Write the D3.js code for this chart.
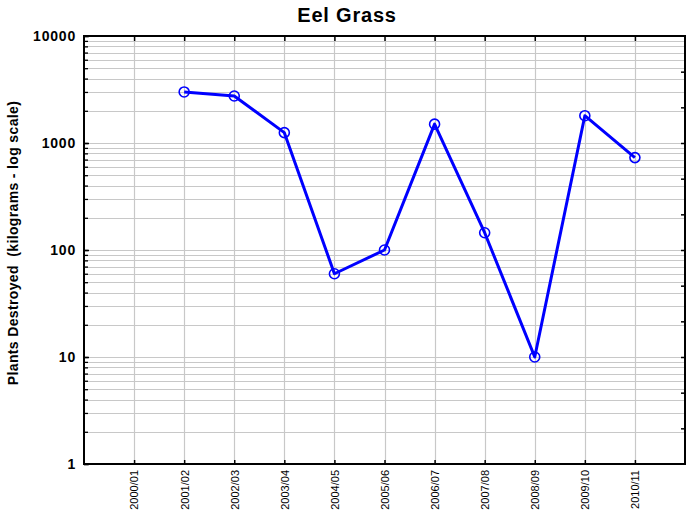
<!DOCTYPE html>
<html>
<head>
<meta charset="utf-8">
<script src="https://cdn.jsdelivr.net/npm/d3@7"></script>
<style>
  html, body { margin: 0; padding: 0; background: #fff; }
  svg { display: block; font-family: "Liberation Sans", Arial, sans-serif; }
</style>
</head>
<body>
<svg id="chart" width="687" height="513"></svg>
<script>
// Seasons on the x axis
const seasons = ["2000/01", "2001/02", "2002/03", "2003/04", "2004/05", "2005/06",
                 "2006/07", "2007/08", "2008/09", "2009/10", "2010/11"];
// Eel grass destroyed per season (kg); no record for 2000/01
const destroyed = [null, 3000, 2750, 1250, 60, 100, 1500, 145, 10, 1800, 730];
// Labelled decades on the log axis
const decadeTicks = [1, 10, 100, 1000, 10000];

const W = 687, H = 513;
const plot = { left: 84, right: 685, top: 36, bottom: 464 };

const svg = d3.select("#chart");

const x = d3.scalePoint().domain(seasons).range([plot.left, plot.right]).padding(1);
const y = d3.scaleLog().domain([1, 10000]).range([plot.bottom, plot.top]);

// Minor log positions (1..9 of each decade)
const minorVals = y.ticks().filter(v => v > 1 && v < 10000);

// Grid
const grid = svg.append("g").attr("stroke", "#c8c8c8").attr("stroke-width", 1.2);
grid.selectAll("line.h").data(minorVals).join("line")
  .attr("x1", plot.left).attr("x2", plot.right)
  .attr("y1", d => Math.round(y(d)) + 0.5).attr("y2", d => Math.round(y(d)) + 0.5);
grid.selectAll("line.v").data(seasons).join("line")
  .attr("y1", plot.top).attr("y2", plot.bottom)
  .attr("x1", d => Math.round(x(d)) + 0.5).attr("x2", d => Math.round(x(d)) + 0.5);

// Left axis: minor ticks + labelled decades
const leftMinor = d3.axisLeft(y).tickValues(y.ticks()).tickSize(-4).tickFormat("");
svg.append("g").attr("transform", `translate(${plot.left},0)`).call(leftMinor)
  .call(g => g.select(".domain").remove())
  .selectAll("line").attr("stroke", "#000").attr("stroke-width", 1.3);

const leftAxis = d3.axisLeft(y).tickValues(decadeTicks).tickSize(-5).tickPadding(8)
  .tickFormat(d3.format("d"));
svg.append("g").attr("transform", `translate(${plot.left},0)`).call(leftAxis)
  .call(g => g.select(".domain").remove())
  .call(g => g.selectAll("line").attr("stroke", "#000").attr("stroke-width", 1.5))
  .call(g => g.selectAll("text")
    .attr("fill", "#000").attr("font-size", 14).attr("font-weight", "bold")
    .attr("letter-spacing", "0.8px")
    .attr("font-family", "'Liberation Sans', Arial, sans-serif"));

// Right axis: inward ticks every third of a decade
const rightVals = d3.range(1, 12).map(n => Math.pow(10, n / 3));
svg.append("g").attr("transform", `translate(${plot.right},0)`)
  .call(d3.axisRight(y).tickValues(rightVals).tickSize(-4).tickFormat(""))
  .call(g => g.select(".domain").remove())
  .selectAll("line").attr("stroke", "#000").attr("stroke-width", 1.5);

// Top and bottom axes: ticks at each season
svg.append("g").attr("transform", `translate(0,${plot.top})`)
  .call(d3.axisTop(x).tickSize(-5).tickFormat(""))
  .call(g => g.select(".domain").remove())
  .selectAll("line").attr("stroke", "#000").attr("stroke-width", 1.5);

const bottom = svg.append("g").attr("transform", `translate(0,${plot.bottom})`)
  .call(d3.axisBottom(x).tickSize(-4).tickPadding(0))
  .call(g => g.select(".domain").remove());
bottom.selectAll("line").attr("stroke", "#000").attr("stroke-width", 1.5);
bottom.selectAll("text")
  .attr("fill", "#000").attr("font-size", 11)
  .attr("text-anchor", "end")
  .attr("transform", "translate(0,6) rotate(-90)")
  .attr("x", 0).attr("y", 0).attr("dy", "0.35em");

// Frame
svg.append("rect")
  .attr("x", plot.left).attr("y", plot.top)
  .attr("width", plot.right - plot.left).attr("height", plot.bottom - plot.top)
  .attr("fill", "none").attr("stroke", "#000").attr("stroke-width", 2);

// Series
const pts = seasons.map((s, i) => ({ s, v: destroyed[i] })).filter(d => d.v != null);
const line = d3.line().x(d => x(d.s)).y(d => y(d.v));
svg.append("path").datum(pts)
  .attr("d", line).attr("fill", "none")
  .attr("stroke", "#0000ff").attr("stroke-width", 3).attr("stroke-linejoin", "round");
svg.append("g").selectAll("circle").data(pts).join("circle")
  .attr("cx", d => x(d.s)).attr("cy", d => y(d.v)).attr("r", 5)
  .attr("fill", "none").attr("stroke", "#0000ff").attr("stroke-width", 1.6);

// Title
svg.append("text")
  .attr("x", 347).attr("y", 22).attr("text-anchor", "middle")
  .attr("font-size", 20).attr("font-weight", "bold").attr("letter-spacing", "0.8px")
  .attr("fill", "#000").text("Eel Grass");

// Y axis title
svg.append("text")
  .attr("transform", `translate(18,243) rotate(-90)`)
  .attr("text-anchor", "middle")
  .attr("font-size", 14).attr("font-weight", "bold").attr("letter-spacing", "0.35px")
  .style("white-space", "pre")
  .attr("fill", "#000").text("Plants Destroyed  (kilograms - log scale)");
</script>
</body>
</html>
